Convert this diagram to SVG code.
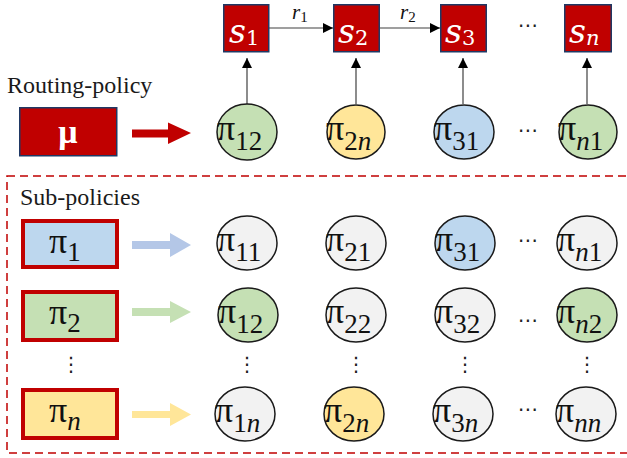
<svg xmlns="http://www.w3.org/2000/svg" width="627" height="458" viewBox="0 0 627 458">
<defs>
<style>
.lbl{font-family:"Liberation Serif",serif;font-size:24px;fill:#1a1a1a}
.sq{fill:#c00000;stroke:#1f3864;stroke-width:1.5}
.sqt{font-family:"DejaVu Serif",serif;fill:#fff;font-style:italic;font-size:33px}
.sub{font-style:normal;font-size:21px}
.subi{font-style:italic;font-size:21px}
.c{stroke:#1a1a1a;stroke-width:1.5}
.gray{fill:#f2f2f2}.green{fill:#c5e0b4}.blue{fill:#bdd7ee}.yellow{fill:#ffe699}
.pt{font-family:"Liberation Serif",serif;font-size:36px;fill:#111}
.ps{font-size:27px}
.it{font-style:italic}
.pol{stroke:#c00000;stroke-width:4}
.dots{font-family:"DejaVu Sans",sans-serif;font-size:20px;fill:#222}
.conn{stroke:#404040;stroke-width:1.2;fill:none}
.rl{font-family:"Liberation Serif",serif;font-style:italic;font-size:21px;fill:#111}
</style>
<marker id="ah" viewBox="0 0 10 10" refX="10" refY="5" markerWidth="10" markerHeight="10" markerUnits="userSpaceOnUse" orient="auto">
<path d="M0,0 L10,5 L0,10 z" fill="#000"/>
</marker>
</defs>

<text class="lbl" x="7" y="93">Routing-policy</text>
<rect x="7" y="176" width="640" height="277" fill="none" stroke="#c00000" stroke-width="1.5" stroke-dasharray="8 5"/>
<text class="lbl" x="20" y="205">Sub-policies</text>

<g id="connectors">
<line class="conn" x1="269" y1="28" x2="333" y2="28" marker-end="url(#ah)"/>
<line class="conn" x1="380" y1="28" x2="440" y2="28" marker-end="url(#ah)"/>
<line class="conn" x1="247" y1="104" x2="247" y2="58" marker-end="url(#ah)"/>
<line class="conn" x1="356" y1="104" x2="356" y2="58" marker-end="url(#ah)"/>
<line class="conn" x1="463" y1="104" x2="463" y2="58" marker-end="url(#ah)"/>
<line class="conn" x1="587" y1="104" x2="587" y2="58" marker-end="url(#ah)"/>
<text class="rl" x="292" y="19">r<tspan font-style="normal" font-size="15" dy="3">1</tspan></text>
<text class="rl" x="400" y="19">r<tspan font-style="normal" font-size="15" dy="3">2</tspan></text>
<polygon points="132,129.5 168,129.5 168,122.5 191,133 168,144 168,137.5 132,137.5" fill="#c00000"/>
<polygon points="132,241 170,241 170,233 191,245 170,257 170,249 132,249" fill="#b4c7e7"/>
<polygon points="132,308 170,308 170,301 191,312 170,323 170,316 132,316" fill="#c5e0b4"/>
<polygon points="132,411 170,411 170,403 191,414.5 170,426 170,418 132,418" fill="#ffe699"/>
</g>

<g id="s1"><rect class="sq" x="223.75" y="4.75" width="45" height="47"/><text class="sqt" x="229" y="43">s<tspan class="sub" dy="2">1</tspan></text></g>
<g id="s2"><rect class="sq" x="333.75" y="4.75" width="45.5" height="47"/><text class="sqt" x="338" y="43">s<tspan class="sub" dy="2">2</tspan></text></g>
<g id="s3"><rect class="sq" x="440.75" y="4.75" width="45.5" height="47"/><text class="sqt" x="445" y="43">s<tspan class="sub" dy="2">3</tspan></text></g>
<g id="sn"><rect class="sq" x="564.75" y="4.75" width="46.5" height="47"/><text class="sqt" x="569" y="43">s<tspan class="subi" dy="2">n</tspan></text></g>
<text class="dots" x="518" y="32">⋯</text>

<g id="mu"><rect x="19.75" y="107.75" width="97" height="48" fill="#c00000" stroke="#1f3864" stroke-width="1.5"/><text x="68" y="143" text-anchor="middle" font-family="Liberation Serif,serif" font-weight="bold" font-size="34" fill="#fff">μ</text></g>

<g id="r-pi12"><ellipse class="c green" cx="247" cy="132" rx="30" ry="28"/><text class="pt" x="217" y="140">π<tspan class="ps" dy="10">12</tspan></text></g>
<g id="r-pi2n"><ellipse class="c yellow" cx="356" cy="132" rx="29" ry="27"/><text class="pt" x="326" y="140">π<tspan class="ps" dy="10">2<tspan class="it">n</tspan></tspan></text></g>
<g id="r-pi31"><ellipse class="c blue" cx="464" cy="132" rx="30" ry="27"/><text class="pt" x="434" y="140">π<tspan class="ps" dy="10">31</tspan></text></g>
<g id="r-pin1"><ellipse class="c green" cx="588" cy="132" rx="29" ry="27"/><text class="pt" x="558" y="140">π<tspan class="ps" dy="10"><tspan class="it">n</tspan>1</tspan></text></g>
<text class="dots" x="518" y="137">⋯</text>

<g id="pi1"><rect class="pol blue" x="23" y="221" width="94" height="46"/><text class="pt" x="49" y="253">π<tspan class="ps" dy="8">1</tspan></text></g>
<g id="pi2"><rect class="pol green" x="23" y="292" width="94" height="48"/><text class="pt" x="49" y="324">π<tspan class="ps" dy="8">2</tspan></text></g>
<g id="pin"><rect class="pol yellow" x="23" y="390" width="94" height="48"/><text class="pt" x="49" y="422">π<tspan class="ps it" dy="8">n</tspan></text></g>

<g id="pi11"><ellipse class="c gray" cx="247" cy="243" rx="30" ry="27"/><text class="pt" x="217" y="251">π<tspan class="ps" dy="10">11</tspan></text></g>
<g id="pi21"><ellipse class="c gray" cx="356" cy="243" rx="30" ry="27"/><text class="pt" x="326" y="251">π<tspan class="ps" dy="10">21</tspan></text></g>
<g id="pi31"><ellipse class="c blue" cx="465" cy="243" rx="30" ry="27"/><text class="pt" x="435" y="251">π<tspan class="ps" dy="10">31</tspan></text></g>
<g id="pin1"><ellipse class="c gray" cx="587" cy="243" rx="30" ry="27"/><text class="pt" x="557" y="251">π<tspan class="ps" dy="10"><tspan class="it">n</tspan>1</tspan></text></g>
<text class="dots" x="518" y="247">⋯</text>

<g id="pi12"><ellipse class="c green" cx="248" cy="315" rx="30" ry="27"/><text class="pt" x="218" y="323">π<tspan class="ps" dy="10">12</tspan></text></g>
<g id="pi22"><ellipse class="c gray" cx="356" cy="315" rx="30" ry="27"/><text class="pt" x="326" y="323">π<tspan class="ps" dy="10">22</tspan></text></g>
<g id="pi32"><ellipse class="c gray" cx="465" cy="315" rx="30" ry="27"/><text class="pt" x="435" y="323">π<tspan class="ps" dy="10">32</tspan></text></g>
<g id="pin2"><ellipse class="c green" cx="587" cy="315" rx="30" ry="27"/><text class="pt" x="557" y="323">π<tspan class="ps" dy="10"><tspan class="it">n</tspan>2</tspan></text></g>
<text class="dots" x="518" y="327">⋯</text>

<g id="pi1n"><ellipse class="c gray" cx="245" cy="414" rx="30" ry="27"/><text class="pt" x="215" y="422">π<tspan class="ps" dy="10">1<tspan class="it">n</tspan></tspan></text></g>
<g id="pi2n"><ellipse class="c yellow" cx="354" cy="414" rx="30" ry="27"/><text class="pt" x="324" y="422">π<tspan class="ps" dy="10">2<tspan class="it">n</tspan></tspan></text></g>
<g id="pi3n"><ellipse class="c gray" cx="463" cy="414" rx="30" ry="27"/><text class="pt" x="433" y="422">π<tspan class="ps" dy="10">3<tspan class="it">n</tspan></tspan></text></g>
<g id="pinn"><ellipse class="c gray" cx="586" cy="414" rx="30" ry="27"/><text class="pt" x="556" y="422">π<tspan class="ps it" dy="10">nn</tspan></text></g>
<text class="dots" x="518" y="416">⋯</text>

<text class="dots" x="71" y="371" text-anchor="middle">⋮</text>
<text class="dots" x="247" y="371" text-anchor="middle">⋮</text>
<text class="dots" x="356" y="371" text-anchor="middle">⋮</text>
<text class="dots" x="465" y="371" text-anchor="middle">⋮</text>
<text class="dots" x="587" y="371" text-anchor="middle">⋮</text>
</svg>
